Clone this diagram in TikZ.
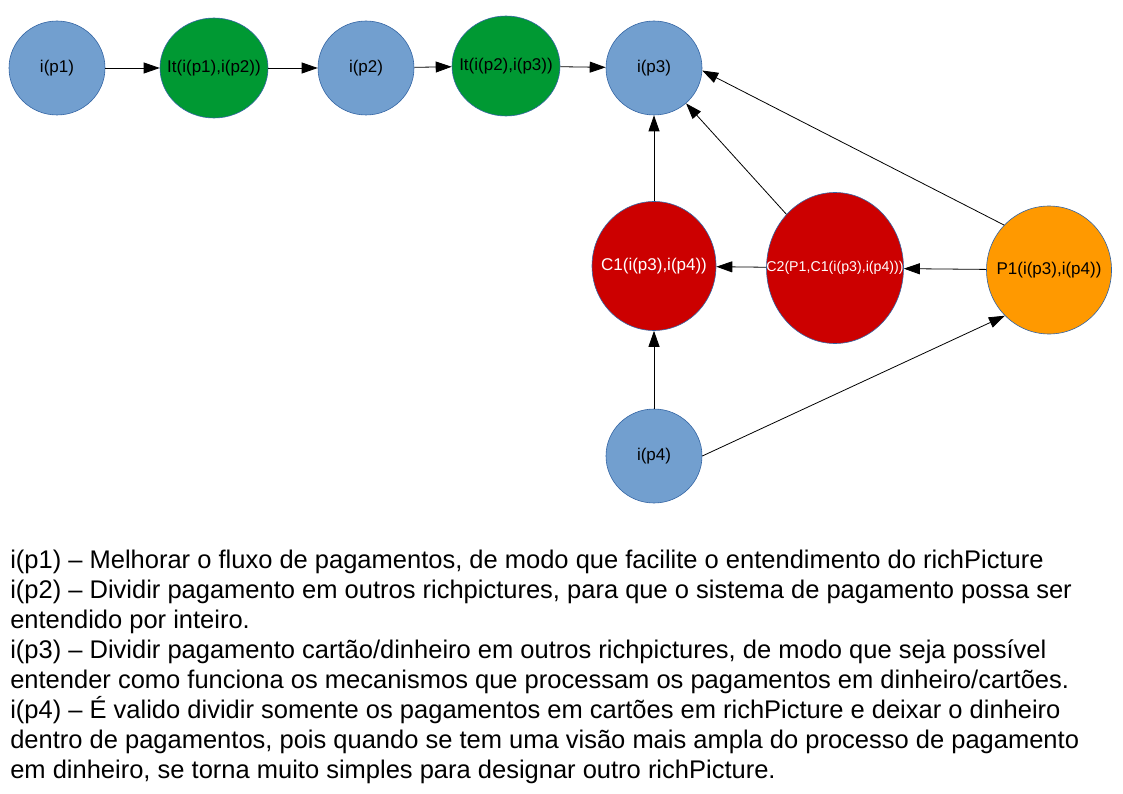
\documentclass[tikz,border=0pt]{standalone}
\usepackage{fontspec}
\setmainfont{Liberation Sans}
\usetikzlibrary{shapes.geometric,arrows.meta}
\definecolor{pblue}{RGB}{114,159,207}
\definecolor{pgreen}{RGB}{0,153,51}
\definecolor{pred}{RGB}{204,0,0}
\definecolor{porange}{RGB}{255,153,0}
\definecolor{pline}{RGB}{52,101,164}
\begin{document}
\begin{tikzpicture}[x=1pt,y=-1pt]
        \tikzstyle{every node}=[ellipse,draw=pline,line width=0.6pt,inner xsep=-12pt,inner ysep=0pt,font=\fontsize{17}{20}\selectfont]
        \tikzstyle{issue}=[fill=pblue, minimum width=96pt, minimum height=94pt]
        \tikzstyle{iter}=[fill=pgreen, minimum width=108pt, minimum height=100pt]
        \tikzstyle{cand}=[fill=pred, text=white]
        \tikzstyle{link}=[-{Triangle[length=16pt,width=11pt]}, line width=0.8pt]
        \useasboundingbox (0,0) rectangle (1123,794);
        \node[issue] (p1) at (57,68) {i(p1)};
        \node[iter] (it1) at (214,68) {It(i(p1),i(p2))};
        \node[issue] (p2) at (366,68) {i(p2)};
        \node[iter] (it2) at (506,66) {It(i(p2),i(p3))};
        \node[issue] (p3) at (654,68) {i(p3)};
        \node[cand, minimum width=124pt, minimum height=129pt] (c1) at (654,266) {C1(i(p3),i(p4))};
        \node[cand, minimum width=137pt, minimum height=151pt, inner xsep=-22pt, font=\fontsize{14.2}{16}\selectfont] (c2) at (835,268) {C2(P1,C1(i(p3),i(p4)))};
        \node[fill=porange, minimum width=125pt, minimum height=128pt] (pp1) at (1049,270) {P1(i(p3),i(p4))};
        \node[issue] (p4) at (654,456) {i(p4)};
        \draw[link] (p1) -- (it1);
        \draw[link] (it1) -- (p2);
        \draw[link] (p2) -- (it2);
        \draw[link] (it2) -- (p3);
        \draw[link] (c1) -- (p3);
        \draw[link] (c2) -- (p3);
        \draw[link] (pp1.135) -- (p3.-3);
        \draw[link] (c2) -- (c1);
        \draw[link] (pp1) -- (c2);
        \draw[link] (p4) -- (c1);
        \draw[link] (p4.east) -- (pp1.226);
        % descricao dos problemas
        \node[draw=none, rectangle, inner sep=0pt, anchor=north west, align=left, font=\fontsize{25.5}{30}\selectfont] (desc) at (10,550) {i(p1) -- Melhorar o fluxo de pagamentos, de modo que facilite o entendimento do richPicture\\
i(p2) -- Dividir pagamento em outros richpictures, para que o sistema de pagamento possa ser\\
entendido por inteiro.\\
i(p3) -- Dividir pagamento cartão/dinheiro em outros richpictures, de modo que seja possível\\
entender como funciona os mecanismos que processam os pagamentos em dinheiro/cartões.\\
i(p4) -- É valido dividir somente os pagamentos em cartões em richPicture e deixar o dinheiro\\
dentro de pagamentos, pois quando se tem uma visão mais ampla do processo de pagamento\\
em dinheiro, se torna muito simples para designar outro richPicture.};
\end{tikzpicture}
\end{document}
